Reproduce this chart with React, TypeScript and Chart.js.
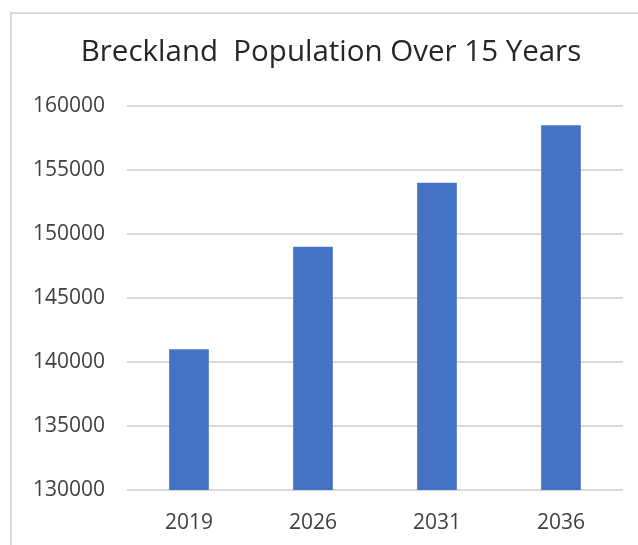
import React, { useEffect, useRef } from "react";
import { Chart, registerables } from "chart.js";

Chart.register(...registerables);

const titleText = "Breckland  Population Over 15 Years";
const categories = ["2019", "2026", "2031", "2036"];
const populationValues = [141000, 149000, 154000, 158500];
const yMin = 130000;
const yMax = 160000;
const yStep = 5000;

const font = "'Open Sans', 'Liberation Sans', sans-serif";

const titlePlugin = {
  id: "frameTitle",
  afterDraw(chart: any) {
    const ctx = chart.ctx;
    ctx.save();
    ctx.font = `normal 29.5px ${font}`;
    ctx.fillStyle = "#262626";
    ctx.textAlign = "center";
    ctx.textBaseline = "middle";
    ctx.fillText(titleText, 331, 53);
    ctx.restore();
  },
};

export default function App() {
  const canvasRef = useRef<HTMLCanvasElement | null>(null);

  useEffect(() => {
    if (!canvasRef.current) return;
    const chart = new Chart(canvasRef.current, {
      type: "bar",
      data: {
        labels: categories,
        datasets: [
          {
            label: "Population",
            data: populationValues,
            backgroundColor: "#4472C4",
            borderWidth: 0,
            barPercentage: 0.32,
            categoryPercentage: 1,
          },
        ],
      },
      plugins: [titlePlugin],
      options: {
        animation: false,
        responsive: false,
        maintainAspectRatio: false,
        layout: { padding: { top: 106, right: 15, bottom: 0, left: 0 } },
        plugins: {
          legend: { display: false },
          tooltip: { enabled: false },
          title: { display: false },
        },
        scales: {
          x: {
            afterFit: (scale: any) => {
              scale.height = 55;
            },
            grid: { display: false, drawTicks: false },
            border: { display: false },
            ticks: { color: "#404040", padding: 20, font: { family: font, size: 21 } },
          },
          y: {
            min: yMin,
            max: yMax,
            afterFit: (scale: any) => {
              scale.width = 127;
            },
            grid: { color: "#d9d9d9", lineWidth: 2, drawTicks: false },
            border: { display: false },
            ticks: {
              stepSize: yStep,
              color: "#404040",
              padding: 22,
              font: { family: font, size: 21 },
              callback: (v: any) => String(v),
            },
          },
        },
      },
    });
    return () => chart.destroy();
  }, []);

  return (
    <div style={{ position: "fixed", left: 0, top: 0, width: 638, height: 545, background: "#fff", overflow: "hidden" }}>
      <div
        style={{
          position: "absolute",
          left: 10,
          top: 12,
          width: 700,
          height: 600,
          border: "2px solid #d9d9d9",
        }}
      />
      <canvas ref={canvasRef} width={638} height={545} style={{ position: "absolute", left: 0, top: 0 }} />
    </div>
  );
}
